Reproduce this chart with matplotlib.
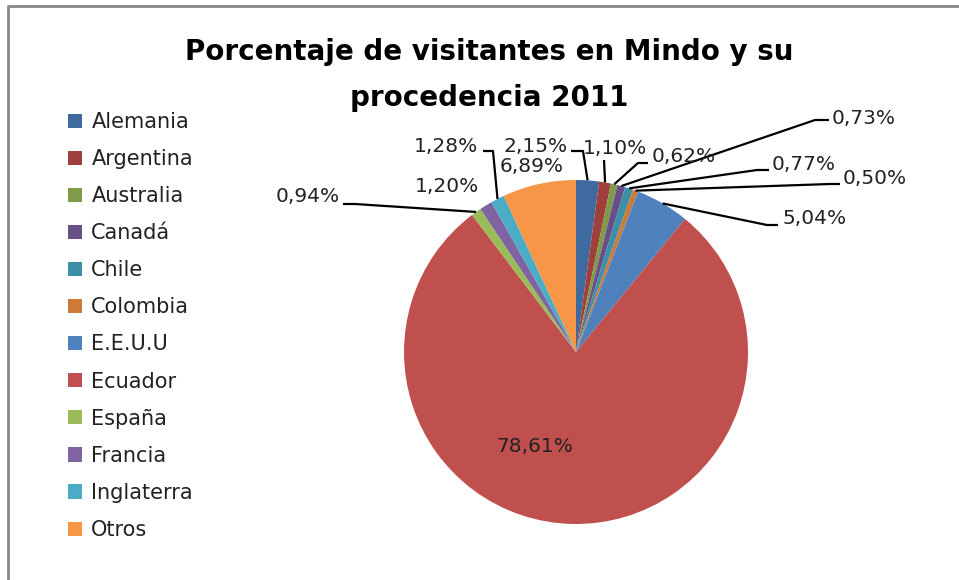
import numpy as np
import matplotlib
matplotlib.use("Agg")
import matplotlib.pyplot as plt

paises = ["Alemania", "Argentina", "Australia", "Canadá", "Chile", "Colombia",
          "E.E.U.U", "Ecuador", "España", "Francia", "Inglaterra", "Otros"]
porcentajes = [2.15, 1.10, 0.62, 0.73, 0.77, 0.50, 5.04, 78.61, 0.94, 1.20, 1.28, 6.89]
colores = ["#3F6AA0", "#A0403D", "#7F9A48", "#684F88", "#3C8FA6", "#CC7A38",
           "#4F81BD", "#C0504D", "#9BBB59", "#8064A2", "#4BACC6", "#F79646"]
titulo = "Porcentaje de visitantes en Mindo y su\nprocedencia 2011"

W, H = 959, 580
cx, cy, R = 576, 352, 172   # pie centre / radius in pixels (y from top)

# label placement in pixels: text x, y, ha, line start x, elbow x (None = no leader)
etiquetas = [
    (568, 146, "right", 571, 583),
    (615, 148, "center", 604, 604),
    (652, 156, "left", 648, 638),
    (832, 118, "left", 829, 815),
    (772, 165, "left", 769, 757),
    (843, 179, "left", 840, 830),
    (782, 218, "left", 778, 767),
    (535, 447, "center", None, None),
    (340, 196, "right", 343, 355),
    (447, 187, "center", None, None),
    (478, 146, "right", 483, 493),
    (532, 166, "center", None, None),
]
# y offset of leader line below text centre
dy_linea = [5, 12, 7, 2, 5, 5, 7, 0, 8, 0, 5, 0]

plt.rcParams["font.family"] = ["DejaVu Sans"]
fig = plt.figure(figsize=(W / 100, H / 100), dpi=100)
ax = fig.add_axes([0, 0, 1, 1])
ax.set_xlim(0, W)
ax.set_ylim(0, H)
ax.set_aspect("equal")
ax.axis("off")

wedges, _ = ax.pie(porcentajes, colors=colores, startangle=90, counterclock=False,
                   center=(cx, H - cy), radius=R, wedgeprops=dict(linewidth=0))
ax.set_xlim(0, W)
ax.set_ylim(0, H)

fs = 14.5
for w, val, (tx, ty, ha, lx, ex), d in zip(wedges, porcentajes, etiquetas, dy_linea):
    texto = f"{val:.2f}%".replace(".", ",")
    ax.text(tx, H - ty, texto, ha=ha, va="center", fontsize=fs, color="#222222")
    if lx is None:
        continue
    ang = np.deg2rad((w.theta1 + w.theta2) / 2)
    px = cx + R * np.cos(ang)
    py = (H - cy) + R * np.sin(ang)
    ly = H - (ty + d)
    if lx == ex:
        ax.plot([lx, px], [ly, py], color="black", lw=1.6, solid_capstyle="butt")
    else:
        ax.plot([lx, ex, px], [ly, ly, py], color="black", lw=1.6, solid_capstyle="butt")

fig.text(489 / W, 1 - 75 / H, titulo, ha="center", va="center", fontsize=20,
         fontweight="bold", linespacing=1.85)

leg = fig.legend(wedges, paises, loc="upper left", bbox_to_anchor=(68 / W, 1 - 112 / H),
                 frameon=False, fontsize=15, handlelength=0.67, handleheight=0.67,
                 handletextpad=0.45, labelspacing=0.82, borderpad=0, borderaxespad=0)
for t in leg.get_texts():
    t.set_color("#222222")

# chart frame (left and top edges visible)
ax.plot([8, 8, W + 5], [-5, H - 6, H - 6], color="#868686", lw=2, clip_on=False)

fig.savefig("out.png", dpi=100)
